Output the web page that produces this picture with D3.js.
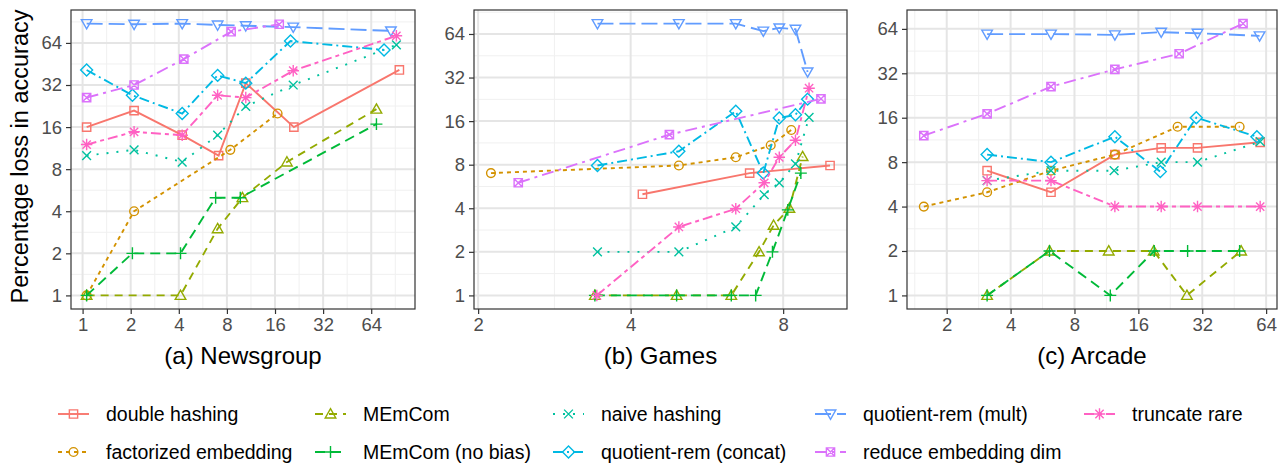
<!DOCTYPE html>
<html>
<head>
<meta charset="utf-8">
<script src="https://cdn.jsdelivr.net/npm/d3@7"></script>
<style>
  body { margin: 0; background: #fff; }
  svg { font-family: "Liberation Sans", Arial, sans-serif; }
</style>
</head>
<body>
<svg id="chart" width="1284" height="464"></svg>
<script>
// method names, in legend order
const methods = [
  "double hashing", "factorized embedding", "MEmCom", "MEmCom (no bias)",
  "naive hashing", "quotient-rem (concat)", "quotient-rem (mult)",
  "reduce embedding dim", "truncate rare"
];
const colors = ["#F8766D", "#D39200", "#93AA00", "#00BA38", "#00C19F",
                "#00B9E3", "#619CFF", "#DB72FB", "#FF61C3"];
const shapes = ["square", "circle", "triangle", "plus", "cross",
                "diamond", "triangleDown", "squareCross", "asterisk"];
const dashes = [null, "4,4", "8,6", "10,6", "2,8", "10,4,2,4", "16,6", "12,5,3,5", "10,4,4,4"];

const tickValues = [1, 2, 4, 8, 16, 32, 64];

// (a) Newsgroup : [compression, loss %]
const newsgroup = {
  "double hashing": [[1.06, 16], [2.1, 21], [4.2, 14], [7.1, 10], [10.5, 33], [21, 16], [96, 41]],
  "factorized embedding": [[1.06, 1], [2.1, 4], [8.4, 11], [16.6, 20]],
  "MEmCom": [[1.06, 1], [4.1, 1], [7, 3], [10, 5], [19, 9], [69, 21.5]],
  "MEmCom (no bias)": [[1.06, 1], [2.05, 2], [4.1, 2], [6.8, 5], [9.7, 5], [69, 16.8]],
  "naive hashing": [[1.06, 10], [2.1, 11], [4.2, 9], [7, 14], [10.5, 22.5], [20.8, 32], [92, 62]],
  "quotient-rem (concat)": [[1.06, 41], [2.05, 27], [4.2, 20], [7, 37.5], [10.5, 33], [20, 66], [77, 57]],
  "quotient-rem (mult)": [[1.06, 88], [2.1, 87], [4.2, 88], [7, 86], [10.5, 85], [20.8, 83], [85, 78]],
  "reduce embedding dim": [[1.06, 26], [2.1, 32], [4.3, 49], [8.5, 77], [17, 87]],
  "truncate rare": [[1.06, 12], [2.1, 14.8], [4.2, 14], [7, 27], [10.5, 26], [20.8, 40.5], [92, 72]]
};

// (b) Games
const games = {
  "double hashing": [[4.22, 5], [6.87, 7], [9.9, 7.9]],
  "factorized embedding": [[2.12, 7], [4.98, 7.9], [6.45, 9], [7.56, 10.9], [8.3, 13.9]],
  "MEmCom": [[3.4, 1], [4.93, 1], [6.32, 1], [7.17, 2], [7.66, 3.05], [8.23, 4], [8.74, 9.1]],
  "MEmCom (no bias)": [[3.4, 1], [4.93, 1], [6.32, 1], [7.06, 1], [7.62, 2], [8.17, 3.9], [8.67, 7]],
  "naive hashing": [[3.44, 2], [4.98, 2], [6.45, 2.97], [7.34, 4.96], [7.86, 6], [8.46, 8.1], [9, 17]],
  "quotient-rem (concat)": [[3.44, 7.9], [4.98, 9.9], [6.45, 18.7], [7.31, 7], [7.86, 16.8], [8.46, 17.7], [8.94, 22.7]],
  "quotient-rem (mult)": [[3.44, 75.5], [4.98, 75.5], [6.45, 75.5], [7.31, 67], [7.86, 70.5], [8.46, 69], [8.94, 35]],
  "reduce embedding dim": [[2.4, 6], [4.77, 12.9], [9.5, 22.8]],
  "truncate rare": [[3.43, 1], [4.98, 2.97], [6.45, 3.97], [7.34, 6], [7.86, 9], [8.46, 11.8], [9, 27]]
};

// (c) Arcade
const arcade = {
  "double hashing": [[3.1, 7], [6.2, 5], [12.4, 9], [20.5, 10], [30.4, 10], [60, 10.9]],
  "factorized embedding": [[1.56, 4], [3.1, 5], [6.2, 7], [12.4, 9], [24.5, 13.9], [48, 13.9]],
  "MEmCom": [[3.1, 1], [6.1, 2], [11.6, 2], [18.9, 2], [27.1, 1], [48.8, 2]],
  "MEmCom (no bias)": [[3.1, 1], [6.1, 2], [11.8, 1], [19, 2], [27.3, 2], [48, 2]],
  "naive hashing": [[3.1, 6], [6.2, 7], [12.3, 7], [20.5, 8], [30.4, 8], [60, 11]],
  "quotient-rem (concat)": [[3.1, 9], [6.2, 8], [12.4, 11.9], [20.3, 6.9], [30, 16], [57.9, 11.9]],
  "quotient-rem (mult)": [[3.1, 59], [6.2, 59], [12.4, 58.3], [20.5, 60.8], [30.4, 59.8], [59.6, 57.4]],
  "reduce embedding dim": [[1.56, 12.1], [3.1, 17], [6.2, 26], [12.4, 34], [24.9, 43.4], [49.8, 69.5]],
  "truncate rare": [[3.1, 6], [6.2, 6], [12.4, 4], [20.5, 4], [30.4, 4], [60, 4]]
};

const panels = [
  { title: "(a) Newsgroup", data: newsgroup, left: 71, right: 415 },
  { title: "(b) Games", data: games, left: 474, right: 847 },
  { title: "(c) Arcade", data: arcade, left: 907, right: 1277 }
];
const plotTop = 10, plotBottom = 309;

const svg = d3.select("#chart");

// symbol paths, roughly like R pch 0..8
function shapePath(type, r) {
  const p = d3.path();
  const s = r * 0.9;
  if (type === "square" || type === "squareCross") {
    p.rect(-s, -s, 2 * s, 2 * s);
    if (type === "squareCross") {
      p.moveTo(-s, -s); p.lineTo(s, s);
      p.moveTo(s, -s); p.lineTo(-s, s);
    }
  } else if (type === "circle") {
    p.moveTo(r * 0.95, 0); p.arc(0, 0, r * 0.95, 0, 2 * Math.PI);
  } else if (type === "triangle") {
    const h = r * 1.15;
    p.moveTo(0, -h); p.lineTo(h, h * 0.75); p.lineTo(-h, h * 0.75); p.closePath();
  } else if (type === "triangleDown") {
    const h = r * 1.15;
    p.moveTo(0, h); p.lineTo(h, -h * 0.75); p.lineTo(-h, -h * 0.75); p.closePath();
  } else if (type === "plus") {
    const a = r * 1.3;
    p.moveTo(-a, 0); p.lineTo(a, 0); p.moveTo(0, -a); p.lineTo(0, a);
  } else if (type === "cross") {
    const a = r * 0.95;
    p.moveTo(-a, -a); p.lineTo(a, a); p.moveTo(a, -a); p.lineTo(-a, a);
  } else if (type === "diamond") {
    const a = r * 1.3;
    p.moveTo(0, -a); p.lineTo(a, 0); p.lineTo(0, a); p.lineTo(-a, 0); p.closePath();
  } else if (type === "asterisk") {
    const a = r * 1.25, b = r * 0.9;
    p.moveTo(-a, 0); p.lineTo(a, 0); p.moveTo(0, -a); p.lineTo(0, a);
    p.moveTo(-b, -b); p.lineTo(b, b); p.moveTo(b, -b); p.lineTo(-b, b);
  }
  return p.toString();
}

// ggplot-like 5% expansion in log space
function logDomain(values) {
  const lo = Math.log2(d3.min(values)), hi = Math.log2(d3.max(values));
  const pad = (hi - lo) * 0.05;
  return [Math.pow(2, lo - pad), Math.pow(2, hi + pad)];
}

panels.forEach(panel => {
  const all = Object.values(panel.data).flat();
  const x = d3.scaleLog().base(2).domain(logDomain(all.map(d => d[0]))).range([panel.left, panel.right]);
  const y = d3.scaleLog().base(2).domain(logDomain(all.map(d => d[1]))).range([plotBottom, plotTop]);

  const g = svg.append("g");

  // grid: major at powers of two, minor halfway in log space
  const xl = x.domain().map(Math.log2), yl = y.domain().map(Math.log2);
  const xMajor = d3.range(Math.ceil(xl[0]), Math.floor(xl[1]) + 1);
  const yMajor = d3.range(Math.ceil(yl[0]), Math.floor(yl[1]) + 1);
  const xMinor = d3.range(Math.ceil(xl[0] - 0.5) + 0.5, xl[1], 1).filter(v => v > xl[0]);
  const yMinor = d3.range(Math.ceil(yl[0] - 0.5) + 0.5, yl[1], 1).filter(v => v > yl[0]);

  g.append("rect").attr("x", panel.left).attr("y", plotTop)
    .attr("width", panel.right - panel.left).attr("height", plotBottom - plotTop).attr("fill", "#fff");

  g.selectAll(".xminor").data(xMinor).join("line")
    .attr("x1", d => x(2 ** d)).attr("x2", d => x(2 ** d)).attr("y1", plotTop).attr("y2", plotBottom)
    .attr("stroke", "#F0F0F0").attr("stroke-width", 1);
  g.selectAll(".yminor").data(yMinor).join("line")
    .attr("y1", d => y(2 ** d)).attr("y2", d => y(2 ** d)).attr("x1", panel.left).attr("x2", panel.right)
    .attr("stroke", "#F0F0F0").attr("stroke-width", 1);
  g.selectAll(".xmajor").data(xMajor).join("line")
    .attr("x1", d => x(2 ** d)).attr("x2", d => x(2 ** d)).attr("y1", plotTop).attr("y2", plotBottom)
    .attr("stroke", "#E5E5E5").attr("stroke-width", 2);
  g.selectAll(".ymajor").data(yMajor).join("line")
    .attr("y1", d => y(2 ** d)).attr("y2", d => y(2 ** d)).attr("x1", panel.left).attr("x2", panel.right)
    .attr("stroke", "#E5E5E5").attr("stroke-width", 2);

  // series
  const line = d3.line().x(d => x(d[0])).y(d => y(d[1]));
  methods.forEach((m, i) => {
    const pts = panel.data[m];
    if (!pts) return;
    g.append("path").datum(pts).attr("d", line)
      .attr("fill", "none").attr("stroke", colors[i]).attr("stroke-width", 1.9)
      .attr("stroke-dasharray", dashes[i]);
    g.selectAll(null).data(pts).join("path")
      .attr("transform", d => `translate(${x(d[0])},${y(d[1])})`)
      .attr("d", shapePath(shapes[i], 4.6))
      .attr("fill", "none").attr("stroke", colors[i]).attr("stroke-width", 1.4);
  });

  g.append("rect").attr("x", panel.left).attr("y", plotTop)
    .attr("width", panel.right - panel.left).attr("height", plotBottom - plotTop)
    .attr("fill", "none").attr("stroke", "#333333").attr("stroke-width", 1.2);

  // axes
  const xTicks = tickValues.filter(v => v >= x.domain()[0] && v <= x.domain()[1]);
  const yTicks = tickValues.filter(v => v >= y.domain()[0] && v <= y.domain()[1]);
  const xAxis = g.append("g").attr("transform", `translate(0,${plotBottom})`)
    .call(d3.axisBottom(x).tickValues(xTicks).tickFormat(d3.format("d")).tickSize(5).tickPadding(4));
  const yAxis = g.append("g").attr("transform", `translate(${panel.left},0)`)
    .call(d3.axisLeft(y).tickValues(yTicks).tickFormat(d3.format("d")).tickSize(5).tickPadding(4));
  [xAxis, yAxis].forEach(a => {
    a.select(".domain").remove();
    a.selectAll(".tick line").attr("stroke", "#333333").attr("stroke-width", 1.2);
    a.selectAll(".tick text").attr("fill", "#4D4D4D").style("font-size", "18.5px")
      .style("font-family", "Liberation Sans, Arial, sans-serif");
  });

  g.append("text").attr("x", (panel.left + panel.right) / 2).attr("y", 364)
    .attr("text-anchor", "middle").style("font-size", "24px").attr("fill", "#000")
    .text(panel.title);
});

// y axis title
svg.append("text")
  .attr("transform", `translate(28,${(plotTop + plotBottom) / 2 - 3}) rotate(-90)`)
  .attr("text-anchor", "middle").style("font-size", "23.5px").attr("fill", "#000")
  .text("Percentage loss in accuracy");

// legend, filled column by column
const legendCols = [58, 315, 553, 815, 1084];
const legendRows = [414, 452];
methods.forEach((m, i) => {
  const kx = legendCols[Math.floor(i / 2)], ky = legendRows[i % 2];
  const lg = svg.append("g");
  lg.append("line").attr("x1", kx).attr("x2", kx + 31).attr("y1", ky).attr("y2", ky)
    .attr("stroke", colors[i]).attr("stroke-width", 1.9).attr("stroke-dasharray", dashes[i]);
  lg.append("path").attr("transform", `translate(${kx + 15.5},${ky})`)
    .attr("d", shapePath(shapes[i], 4.6))
    .attr("fill", "none").attr("stroke", colors[i]).attr("stroke-width", 1.4);
  lg.append("text").attr("x", kx + 48).attr("y", ky).attr("dy", "0.35em")
    .style("font-size", "19.5px").attr("fill", "#000").text(m);
});
</script>
</body>
</html>
